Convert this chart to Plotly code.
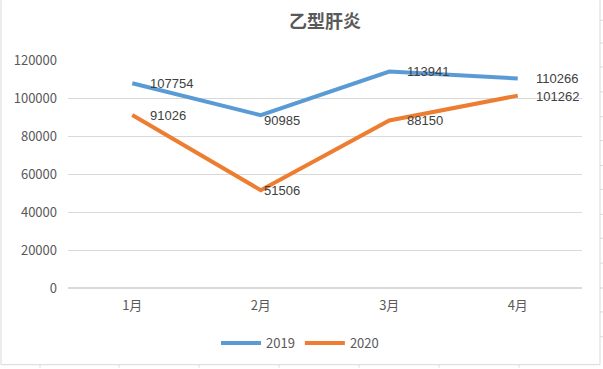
import plotly.graph_objects as go

categories = ["1月", "2月", "3月", "4月"]
values_2019 = [107754, 90985, 113941, 110266]
values_2020 = [91026, 51506, 88150, 101262]
y_ticks = [0, 20000, 40000, 60000, 80000, 100000, 120000]

# label placement styling (pixel offsets from each point)
label_dx = [16, 1, 16, 16]
label_dy_2019 = [0, 5, 0, 0]
label_dy_2020 = [0, 0, 0, 1]

W, H = 603, 369
L, R, T, B = 68, 21, 60, 80
pw, ph = W - L - R, H - T - B

def px(x):
    return (x - L) / pw

def py(y):
    return (H - B - y) / ph

fig = go.Figure()
fig.add_trace(go.Scatter(
    x=categories, y=values_2019, name="2019", mode="lines",
    line=dict(color="#5B9BD5", width=4)))
fig.add_trace(go.Scatter(
    x=categories, y=values_2020, name="2020", mode="lines",
    line=dict(color="#ED7D31", width=4)))

annotations = []
for vals, dys in [(values_2019, label_dy_2019), (values_2020, label_dy_2020)]:
    for i, (c, v) in enumerate(zip(categories, vals)):
        annotations.append(dict(
            x=c, y=v, xref="x", yref="y", text=str(v), showarrow=False,
            xanchor="left", yanchor="middle", xshift=label_dx[i], yshift=-dys[i],
            font=dict(family="Liberation Sans, Arial, sans-serif", size=13, color="#404040")))

line_col = "#D9D9D9"
shapes = [
    dict(type="line", xref="paper", yref="paper", x0=px(1), x1=px(1), y0=py(0), y1=py(366), line=dict(color=line_col, width=1)),
    dict(type="line", xref="paper", yref="paper", x0=px(600), x1=px(600), y0=py(0), y1=py(366), line=dict(color=line_col, width=1)),
    dict(type="line", xref="paper", yref="paper", x0=px(1), x1=px(600), y0=py(366), y1=py(366), line=dict(color=line_col, width=1)),
]
for cx in [40, 119, 199, 279, 359, 439, 519]:
    shapes.append(dict(type="line", xref="paper", yref="paper", x0=px(cx), x1=px(cx), y0=py(366), y1=py(369), line=dict(color=line_col, width=1)))
for ry in [20, 43, 67, 92, 117, 141, 166, 190, 215, 239, 264, 289, 313, 338]:
    shapes.append(dict(type="line", xref="paper", yref="paper", x0=px(600), x1=px(603), y0=py(ry), y1=py(ry), line=dict(color=line_col, width=1)))

fig.update_layout(
    width=W, height=H,
    margin=dict(l=L, r=R, t=T, b=B),
    paper_bgcolor="white", plot_bgcolor="white",
    font=dict(family="Noto Sans CJK SC, DejaVu Sans, sans-serif", color="#595959", size=13),
    title=dict(text="<b>乙型肝炎</b>", x=0.5, xref="paper", xanchor="center", y=1 - 22 / H, yanchor="middle",
               font=dict(size=18, color="#595959")),
    showlegend=True,
    legend=dict(orientation="h", x=px(300), xanchor="center", y=py(343), yanchor="middle",
                font=dict(size=13, color="#595959"), itemwidth=40, traceorder="normal"),
    shapes=shapes,
    annotations=annotations,
)
fig.update_xaxes(range=[-0.5, 3.5], showgrid=False, showline=False, zeroline=False, ticks="",
                 ticklabelstandoff=8, tickfont=dict(size=13, color="#595959"))
fig.update_yaxes(range=[0, 120000], tickvals=y_ticks, ticktext=[str(v) for v in y_ticks],
                 showgrid=True, gridcolor="#D9D9D9", gridwidth=1, zeroline=True, zerolinecolor="#D9D9D9",
                 showline=False, ticks="", ticklabelstandoff=10, tickfont=dict(size=13, color="#595959"))

fig.write_html("out.html", config={"displayModeBar": False},
               post_script="document.body.style.margin='0';document.body.style.overflow='hidden';")
